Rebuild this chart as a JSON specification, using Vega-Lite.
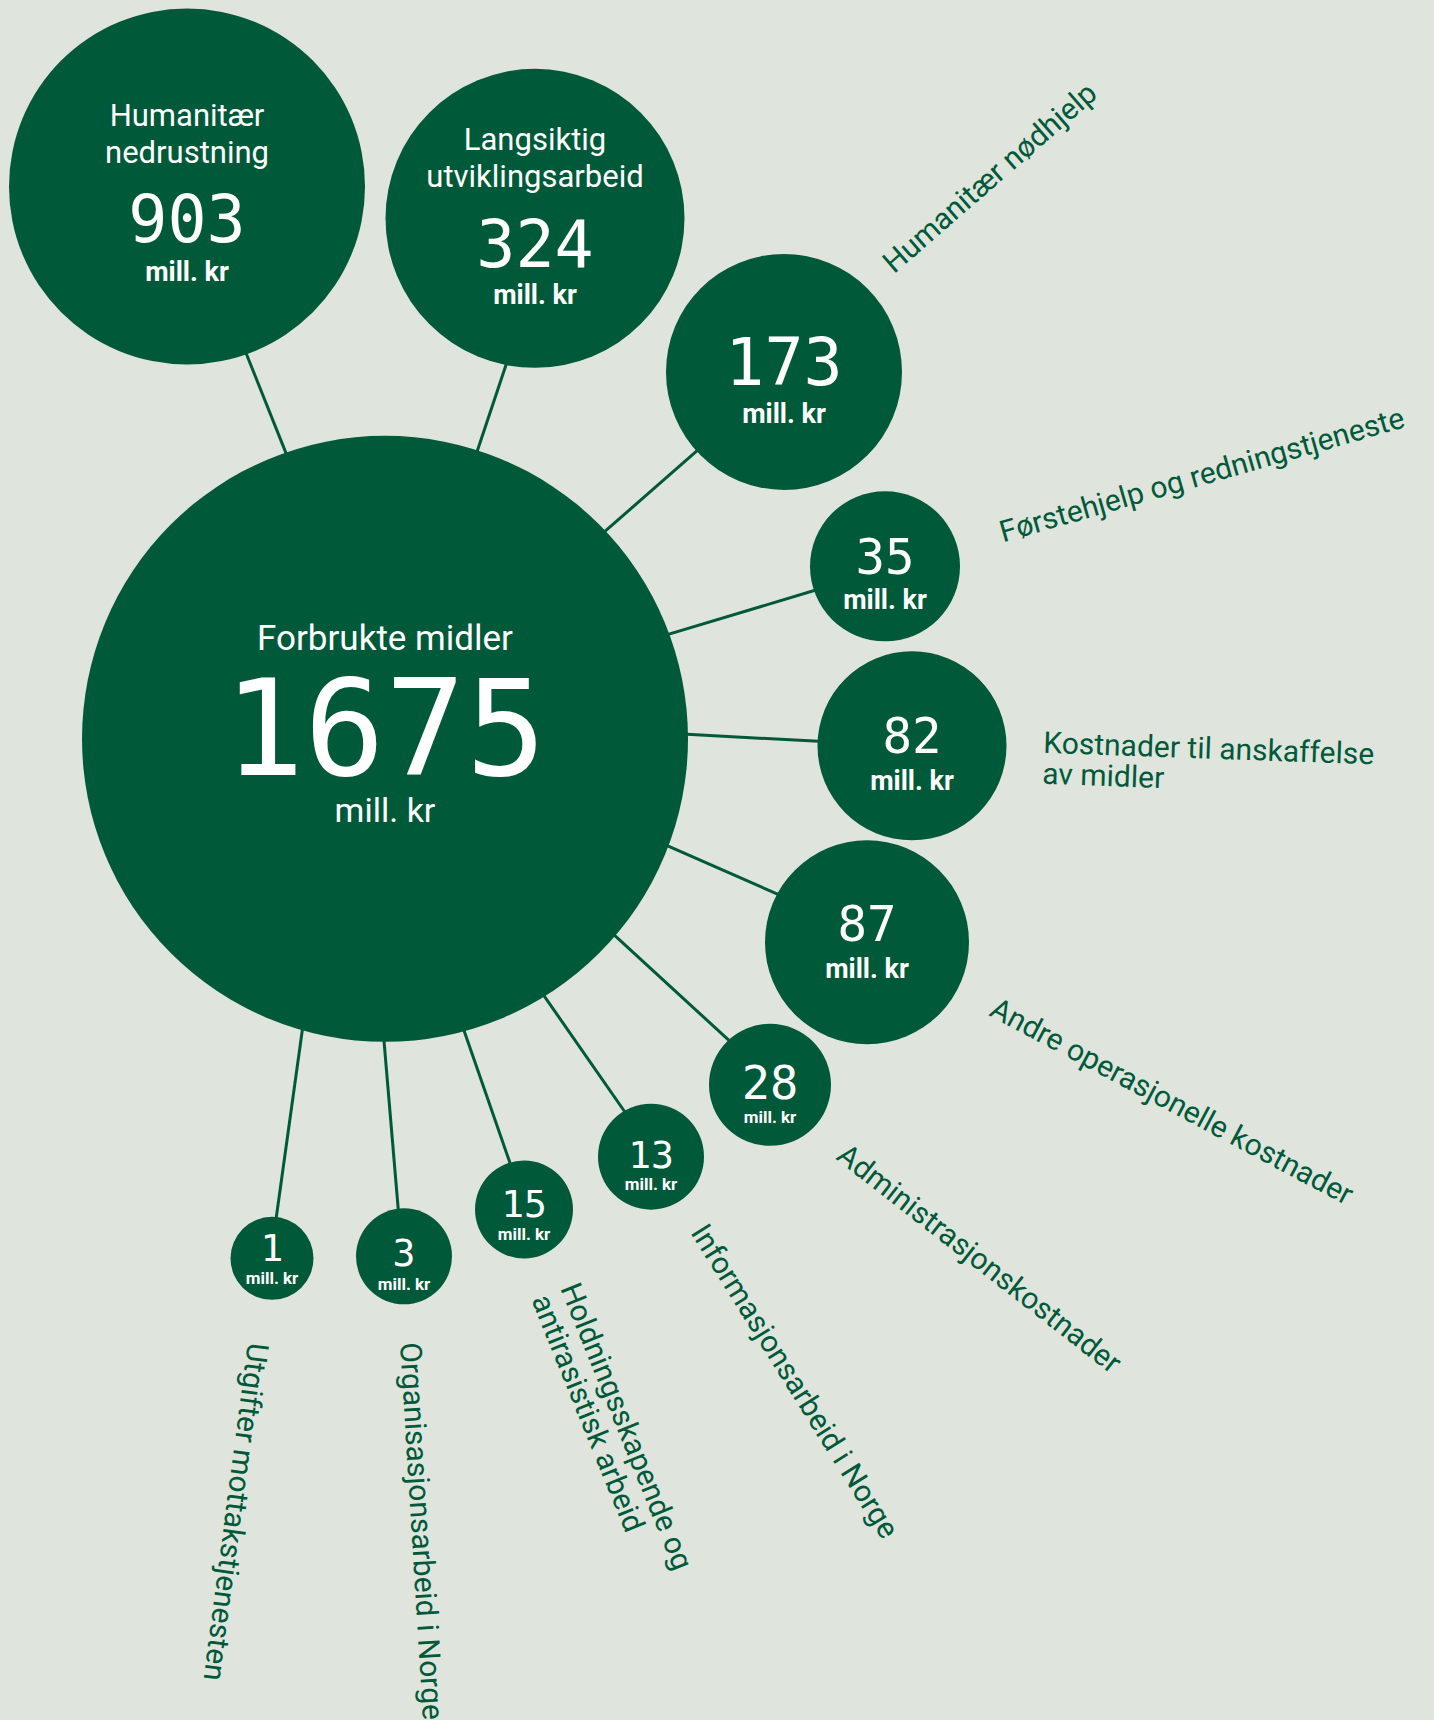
{
  "$schema": "https://vega.github.io/schema/vega-lite/v6.json",
  "width": 1434,
  "height": 1720,
  "autosize": {"type": "fit", "contains": "padding"},
  "padding": 0,
  "background": "#DFE4DD",
  "config": {"view": {"stroke": null}},
  "resolve": {"scale": {"size": "independent", "angle": "independent"}},
  "datasets": {
    "nodes": [
      {"name": "Forbrukte midler", "value": 1675, "cx": 385, "cy": 741, "numY": 777, "unitY": 824, "title": "Forbrukte midler", "titleY": 652},
      {"name": "Humanitær nedrustning", "value": 903, "cx": 187, "cy": 187, "numY": 243, "unitY": 282, "title": "Humanitær\nnedrustning", "titleY": 126},
      {"name": "Langsiktig utviklingsarbeid", "value": 324, "cx": 535, "cy": 219, "numY": 268, "unitY": 305, "title": "Langsiktig\nutviklingsarbeid", "titleY": 150},
      {"name": "Humanitær nødhjelp", "value": 173, "cx": 784, "cy": 373, "numY": 386, "unitY": 424},
      {"name": "Førstehjelp og redningstjeneste", "value": 35, "cx": 885, "cy": 568, "numY": 576, "unitY": 611},
      {"name": "Kostnader til anskaffelse av midler", "value": 82, "cx": 912, "cy": 748, "numY": 755, "unitY": 792},
      {"name": "Andre operasjonelle kostnader", "value": 87, "cx": 867, "cy": 945, "numY": 944, "unitY": 981},
      {"name": "Administrasjonskostnader", "value": 28, "cx": 770, "cy": 1088, "numY": 1102, "unitY": 1126},
      {"name": "Informasjonsarbeid i Norge", "value": 13, "cx": 651, "cy": 1160, "numY": 1171, "unitY": 1193},
      {"name": "Holdningsskapende og antirasistisk arbeid", "value": 15, "cx": 524, "cy": 1213, "numY": 1221, "unitY": 1244},
      {"name": "Organisasjonsarbeid i Norge", "value": 3, "cx": 404, "cy": 1260, "numY": 1270, "unitY": 1294},
      {"name": "Utgifter mottakstjenesten", "value": 1, "cx": 272, "cy": 1262, "numY": 1265, "unitY": 1288}
    ],
    "links": [
      {"to": "Humanitær nedrustning", "x1": 289, "y1": 462, "x2": 242, "y2": 344},
      {"to": "Langsiktig utviklingsarbeid", "x1": 475, "y1": 459, "x2": 509, "y2": 357},
      {"to": "Humanitær nødhjelp", "x1": 598, "y1": 539, "x2": 704, "y2": 446},
      {"to": "Førstehjelp og redningstjeneste", "x1": 659, "y1": 639, "x2": 825, "y2": 589},
      {"to": "Kostnader til anskaffelse av midler", "x1": 678, "y1": 736, "x2": 828, "y2": 744},
      {"to": "Andre operasjonelle kostnader", "x1": 658, "y1": 844, "x2": 785, "y2": 900},
      {"to": "Administrasjonskostnader", "x1": 607, "y1": 931, "x2": 735, "y2": 1049},
      {"to": "Informasjonsarbeid i Norge", "x1": 538, "y1": 990, "x2": 631, "y2": 1124},
      {"to": "Holdningsskapende og antirasistisk arbeid", "x1": 460, "y1": 1022, "x2": 513, "y2": 1175},
      {"to": "Organisasjonsarbeid i Norge", "x1": 383, "y1": 1032, "x2": 399, "y2": 1222},
      {"to": "Utgifter mottakstjenesten", "x1": 304, "y1": 1021, "x2": 275, "y2": 1230}
    ],
    "labels": [
      {"name": "Humanitær nødhjelp", "label": "Humanitær nødhjelp", "lx": 894, "ly": 275},
      {"name": "Førstehjelp og redningstjeneste", "label": "Førstehjelp og redningstjeneste", "lx": 1003, "ly": 544},
      {"name": "Kostnader til anskaffelse av midler", "label": "Kostnader til anskaffelse\nav midler", "lx": 1043, "ly": 755},
      {"name": "Andre operasjonelle kostnader", "label": "Andre operasjonelle kostnader", "lx": 988, "ly": 1018},
      {"name": "Administrasjonskostnader", "label": "Administrasjonskostnader", "lx": 835, "ly": 1162},
      {"name": "Informasjonsarbeid i Norge", "label": "Informasjonsarbeid i Norge", "lx": 690, "ly": 1236},
      {"name": "Holdningsskapende og antirasistisk arbeid", "label": "Holdningsskapende og\nantirasistisk arbeid", "lx": 560, "ly": 1292},
      {"name": "Organisasjonsarbeid i Norge", "label": "Organisasjonsarbeid i Norge", "lx": 400, "ly": 1347},
      {"name": "Utgifter mottakstjenesten", "label": "Utgifter mottakstjenesten", "lx": 248, "ly": 1346}
    ]
  },
  "layer": [
    {
      "data": {"name": "links"},
      "mark": {"type": "rule", "color": "#005A3A", "strokeWidth": 3},
      "encoding": {
        "x": {"field": "x1", "type": "quantitative", "scale": {"domain": [0, 1434], "nice": false, "zero": false}, "axis": null},
        "y": {"field": "y1", "type": "quantitative", "scale": {"domain": [0, 1720], "nice": false, "zero": false, "reverse": true}, "axis": null},
        "x2": {"field": "x2"},
        "y2": {"field": "y2"}
      }
    },
    {
      "data": {"name": "nodes"},
      "mark": {"type": "point", "shape": "circle", "filled": true, "opacity": 1, "color": "#005A3A", "strokeWidth": 0},
      "encoding": {
        "x": {"field": "cx", "type": "quantitative", "axis": null},
        "y": {"field": "cy", "type": "quantitative", "axis": null},
        "size": {"field": "value", "type": "quantitative", "legend": null,
          "scale": {"zero": false, "nice": false,
            "domain": [1, 3, 13, 15, 28, 35, 82, 87, 173, 324, 903, 1675],
            "range": [6889, 9216, 11236, 9604, 14884, 22500, 35721, 41616, 55696, 89401, 126736, 367236]}}
      }
    },
    {
      "data": {"name": "nodes"},
      "mark": {"type": "text", "font": "DejaVu Sans Mono", "color": "#FFFFFF", "align": "center", "baseline": "alphabetic"},
      "encoding": {
        "x": {"field": "cx", "type": "quantitative", "axis": null},
        "y": {"field": "numY", "type": "quantitative", "axis": null},
        "text": {"field": "value", "type": "quantitative", "format": "d"},
        "size": {"field": "value", "type": "quantitative", "legend": null,
          "scale": {"zero": false, "nice": false,
            "domain": [1, 15, 28, 35, 87, 173, 903, 1675],
            "range": [38, 38, 47, 49, 49, 65, 65, 134]}}
      }
    },
    {
      "data": {"name": "nodes"},
      "transform": [{"filter": "datum.value < 1675"}],
      "mark": {"type": "text", "font": "Roboto", "fontWeight": "bold", "color": "#FFFFFF", "align": "center", "baseline": "alphabetic"},
      "encoding": {
        "x": {"field": "cx", "type": "quantitative", "axis": null},
        "y": {"field": "unitY", "type": "quantitative", "axis": null},
        "text": {"value": "mill. kr"},
        "size": {"field": "value", "type": "quantitative", "legend": null,
          "scale": {"zero": false, "nice": false, "domain": [1, 28, 35, 903], "range": [17, 17, 27, 27]}}
      }
    },
    {
      "data": {"name": "nodes"},
      "transform": [{"filter": "datum.value == 1675"}],
      "mark": {"type": "text", "font": "Roboto", "fontSize": 34, "color": "#FFFFFF", "align": "center", "baseline": "alphabetic"},
      "encoding": {
        "x": {"field": "cx", "type": "quantitative", "axis": null},
        "y": {"field": "unitY", "type": "quantitative", "axis": null},
        "text": {"value": "mill. kr"}
      }
    },
    {
      "data": {"name": "nodes"},
      "transform": [{"filter": "isValid(datum.title)"}],
      "mark": {"type": "text", "font": "Roboto", "color": "#FFFFFF", "align": "center", "baseline": "alphabetic", "lineBreak": "\n", "lineHeight": 37},
      "encoding": {
        "x": {"field": "cx", "type": "quantitative", "axis": null},
        "y": {"field": "titleY", "type": "quantitative", "axis": null},
        "text": {"field": "title", "type": "nominal"},
        "size": {"field": "value", "type": "quantitative", "legend": null,
          "scale": {"zero": false, "nice": false, "domain": [324, 903, 1675], "range": [31, 31, 35]}}
      }
    },
    {
      "data": {"name": "labels"},
      "mark": {"type": "text", "font": "Roboto", "fontSize": 30, "color": "#005A3A", "align": "left", "baseline": "alphabetic", "lineBreak": "\n", "lineHeight": 31},
      "encoding": {
        "x": {"field": "lx", "type": "quantitative", "axis": null},
        "y": {"field": "ly", "type": "quantitative", "axis": null},
        "text": {"field": "label", "type": "nominal"},
        "angle": {"field": "name", "type": "nominal", "legend": null,
          "scale": {"type": "ordinal",
            "domain": ["Humanitær nødhjelp", "Førstehjelp og redningstjeneste", "Kostnader til anskaffelse av midler", "Andre operasjonelle kostnader", "Administrasjonskostnader", "Informasjonsarbeid i Norge", "Holdningsskapende og antirasistisk arbeid", "Organisasjonsarbeid i Norge", "Utgifter mottakstjenesten"],
            "range": [319, 344, 2, 28, 38, 58, 68, 86.5, 97.5]}}
      }
    }
  ]
}
